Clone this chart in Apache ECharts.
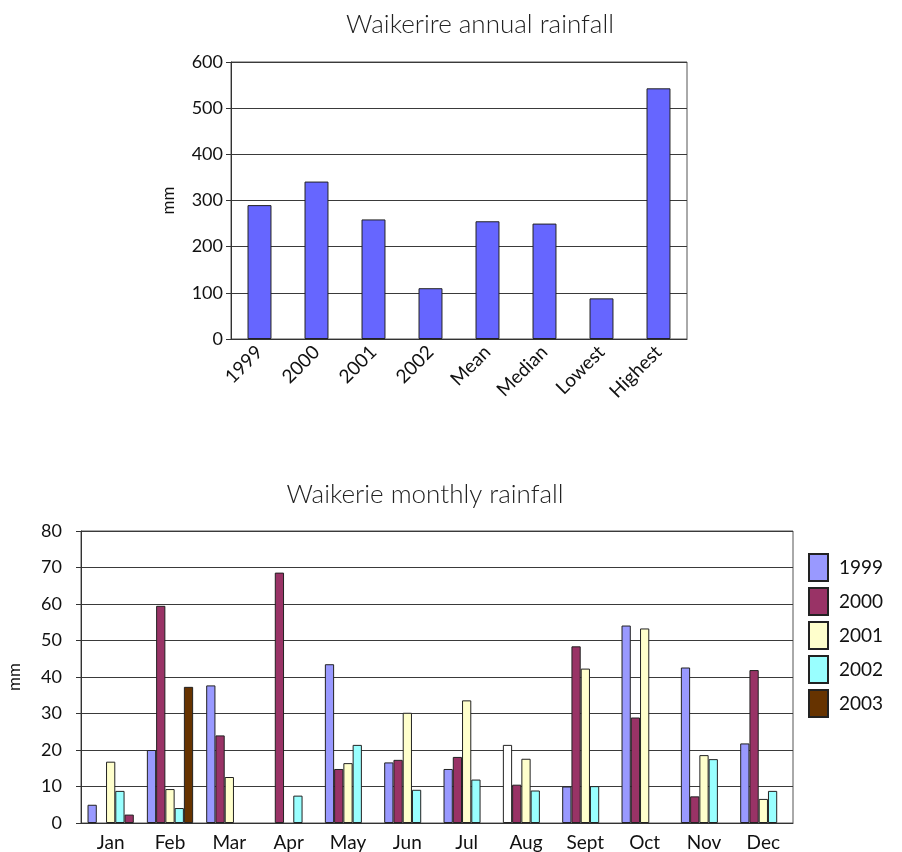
<!DOCTYPE html>
<html>
<head>
<meta charset="utf-8">
<script src="https://cdn.jsdelivr.net/npm/echarts@6/dist/echarts.min.js"></script>
<style>
  html, body { margin: 0; padding: 0; background: #fff; }
  #chart { width: 902px; height: 852px; }
</style>
</head>
<body>
<div id="chart"></div>
<script>
// Annual rainfall summary (mm)
const annualCategories = ['1999', '2000', '2001', '2002', 'Mean', 'Median', 'Lowest', 'Highest'];
const annualValues = [290, 341, 259, 110, 255, 250, 88, 543];

// Monthly rainfall by year (mm)
const months = ['Jan', 'Feb', 'Mar', 'Apr', 'May', 'Jun', 'Jul', 'Aug', 'Sept', 'Oct', 'Nov', 'Dec'];
const years = ['1999', '2000', '2001', '2002', '2003'];
const rain1999 = [5.0, 20.0, 37.7, null, 43.5, 16.6, 14.8, 21.4, 10.0, 54.1, 42.6, 21.8];
const rain2000 = [null, 59.5, 24.0, 68.6, 14.8, 17.3, 18.1, 10.5, 48.4, 28.9, 7.3, 41.9];
const rain2001 = [16.8, 9.3, 12.6, null, 16.4, 30.2, 33.6, 17.6, 42.3, 53.3, 18.6, 6.6];
const rain2002 = [8.8, 4.1, null, 7.5, 21.4, 9.1, 11.9, 8.9, 10.1, null, 17.5, 8.8];
const rain2003 = [2.3, 37.3, null, null, null, null, null, null, null, null, null, null];
const monthlySeries = [rain1999, rain2000, rain2001, rain2002, rain2003];

const yearColors = ['#9999FF', '#993366', '#FFFFCC', '#99FFFF', '#663300'];
// individual points drawn in a different fill
const pointOverrides = { '0-7': '#FFFFFF', '4-0': '#993366' };

const FONT = 'Lato, "Open Sans", "DejaVu Sans", sans-serif';
const gridLine = { lineStyle: { color: '#3a3a3a', width: 1 } };

const chart = echarts.init(document.getElementById('chart'), null, { renderer: 'canvas' });

const monthly = monthlySeries.map((vals, si) => ({
  name: years[si],
  type: 'bar',
  xAxisIndex: 1,
  yAxisIndex: 1,
  barGap: '0%',
  barCategoryGap: '22%',
  itemStyle: { color: yearColors[si], borderColor: '#222', borderWidth: 1 },
  data: vals.map((v, i) => {
    const c = pointOverrides[si + '-' + i];
    return c ? { value: v, itemStyle: { color: c } } : v;
  })
}));

chart.setOption({
  animation: false,
  backgroundColor: '#fff',
  textStyle: { fontFamily: FONT },
  title: [
    { text: 'Waikerire annual rainfall', left: 475, top: 7, textAlign: 'center',
      textStyle: { fontFamily: FONT, fontSize: 26, fontWeight: 300, color: '#222' } },
    { text: 'Waikerie monthly rainfall', left: 420, top: 477, textAlign: 'center',
      textStyle: { fontFamily: FONT, fontSize: 26, fontWeight: 300, color: '#222' } }
  ],
  legend: {
    data: years,
    orient: 'vertical',
    left: 808,
    top: 553,
    padding: 0,
    itemWidth: 19,
    itemHeight: 27,
    itemGap: 5,
    icon: 'rect',
    textStyle: { fontFamily: FONT, fontSize: 19, color: '#111', padding: [0, 0, 0, 6] }
  },
  grid: [
    { left: 231, top: 62, width: 456, height: 277, show: true, borderColor: '#555', borderWidth: 1,
      outerBoundsMode: 'none' },
    { left: 81, top: 531, width: 712, height: 292, show: true, borderColor: '#555', borderWidth: 1,
      outerBoundsMode: 'none' }
  ],
  xAxis: [
    {
      gridIndex: 0, type: 'category', data: annualCategories,
      axisLine: { lineStyle: { color: '#333' } },
      axisTick: { show: false },
      axisLabel: { rotate: 45, margin: 10, fontSize: 19, color: '#111', fontFamily: FONT }
    },
    {
      gridIndex: 1, type: 'category', data: months,
      axisLine: { lineStyle: { color: '#333' } },
      axisTick: { show: false },
      axisLabel: { margin: 10, fontSize: 19, color: '#111', fontFamily: FONT }
    }
  ],
  yAxis: [
    {
      gridIndex: 0, type: 'value', min: 0, max: 600, interval: 100,
      name: 'mm', nameLocation: 'middle', nameGap: 54, nameRotate: 90,
      nameTextStyle: { fontSize: 17, color: '#111', fontFamily: FONT },
      axisLine: { show: true, lineStyle: { color: '#333' } },
      axisTick: { show: true, length: 5, lineStyle: { color: '#333' } },
      axisLabel: { margin: 8, fontSize: 18, color: '#111', fontFamily: FONT },
      splitLine: gridLine
    },
    {
      gridIndex: 1, type: 'value', min: 0, max: 80, interval: 10,
      name: 'mm', nameLocation: 'middle', nameGap: 58, nameRotate: 90,
      nameTextStyle: { fontSize: 17, color: '#111', fontFamily: FONT },
      axisLine: { show: true, lineStyle: { color: '#333' } },
      axisTick: { show: true, length: 5, lineStyle: { color: '#333' } },
      axisLabel: { margin: 19, fontSize: 18, color: '#111', fontFamily: FONT },
      splitLine: gridLine
    }
  ],
  series: [
    {
      name: 'Annual',
      type: 'bar',
      xAxisIndex: 0,
      yAxisIndex: 0,
      barWidth: '42%',
      itemStyle: { color: '#6666FF', borderColor: '#222', borderWidth: 1 },
      data: annualValues
    },
    ...monthly
  ]
});
</script>
</body>
</html>
